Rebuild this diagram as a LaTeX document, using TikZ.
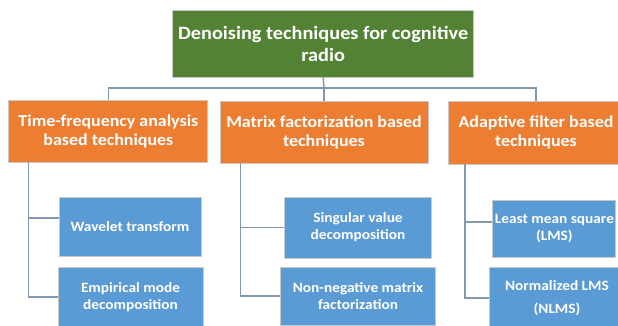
\documentclass[tikz,border=0pt]{standalone}
\usepackage{fontspec}
\setmainfont{Carlito}[FakeStretch=1.08]
\usetikzlibrary{calc}
\definecolor{cgreen}{HTML}{548235}
\definecolor{corange}{HTML}{ED7D31}
\definecolor{cblue}{HTML}{5B9BD5}
\definecolor{cline}{HTML}{8497B0}
\definecolor{cborder}{HTML}{C8C8C8}
\tikzset{
  box/.style={draw=cborder, line width=1pt, text=white, align=center, inner sep=0pt, font=\bfseries},
  topbox/.style={box, fill=cgreen, font=\bfseries\fontsize{18.8}{22}\selectfont},
  midbox/.style={box, fill=corange, font=\bfseries\fontsize{16.6}{19}\selectfont},
  leafbox/.style={box, fill=cblue, font=\bfseries\fontsize{14.2}{17}\selectfont},
  conn/.style={draw=cline, line width=1.5pt}
}
\begin{document}
\begin{tikzpicture}[x=1pt,y=-1pt]
\useasboundingbox (0,0) rectangle (618,325);
\clip (0,0) rectangle (618,325);
\fill[white] (0,0) rectangle (618,325);
% trunk coordinates
\coordinate (bus) at (324,88);
\coordinate (t1) at (28.4,162);
\coordinate (t2) at (240.4,163);
\coordinate (t3) at (465,164);
% nodes
\node[topbox, minimum width=301pt, minimum height=67pt] (root) at (323.2,43.5) {Denoising techniques for cognitive\\radio};
\node[midbox, minimum width=199pt, minimum height=62pt] (o1) at (108.4,131) {Time-frequency analysis\\based techniques};
\node[midbox, minimum width=208pt, minimum height=62pt] (o2) at (324,132) {Matrix factorization based\\techniques};
\node[midbox, minimum width=176pt, minimum height=63pt] (o3) at (536,132.5) {Adaptive filter based\\techniques};
\node[leafbox, minimum width=142pt, minimum height=59pt] (b1) at (130,226.5) {Wavelet transform};
\node[leafbox, minimum width=145pt, minimum height=60pt] (b2) at (130.5,297) {Empirical mode\\decomposition};
\node[leafbox, minimum width=147pt, minimum height=61pt] (b3) at (358,227.5) {Singular value\\decomposition};
\node[leafbox, minimum width=155pt, minimum height=58pt] (b4) at (358,296) {Non-negative matrix\\factorization};
\node[leafbox, minimum width=123pt, minimum height=57pt] (b5) at (554.4,228.5) {Least mean square\\(LMS)};
\node[leafbox, minimum width=136pt, minimum height=63pt, font=\bfseries\fontsize{14.2}{23}\selectfont] (b6) at (557,298.5) {Normalized LMS\\(NLMS)};
% connectors
\draw[conn] (root.south) -- (bus);
\draw[conn] (bus) -| (o1.north);
\draw[conn] (bus) -| (o3.north);
\draw[conn] (bus) -- (o2.north);
\draw[conn] (t1) |- ([yshift=8.5pt]b1.west);
\draw[conn] (t1) |- (b2.west);
\draw[conn] (t2) |- (b3.west);
\draw[conn] (t2) |- (b4.west);
\draw[conn] (t3) |- ([yshift=6.5pt]b5.west);
\draw[conn] (t3) |- ([yshift=0.5pt]b6.west);
\end{tikzpicture}
\end{document}
